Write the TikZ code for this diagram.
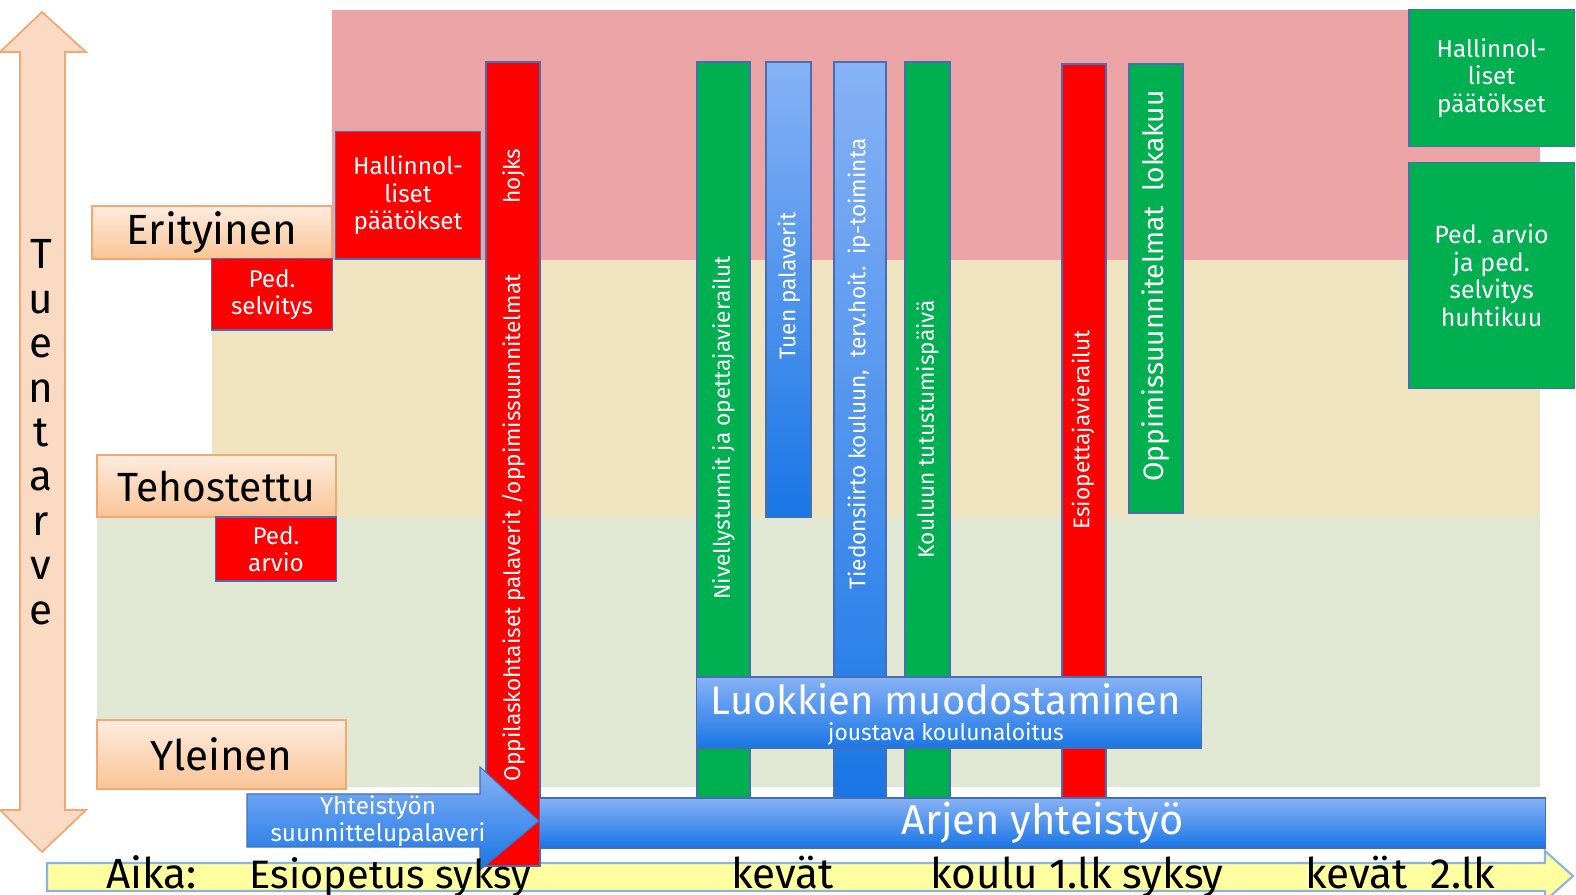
\documentclass[tikz,border=0pt]{standalone}
\usepackage{fontspec}
\setmainfont{Fira Sans}
\usepackage{tikz}

\definecolor{bandred}{RGB}{235,163,165}
\definecolor{bandbeige}{RGB}{240,228,192}
\definecolor{bandgreen}{RGB}{224,232,212}
\definecolor{barred}{RGB}{255,0,0}
\definecolor{bargreen}{RGB}{0,176,80}
\definecolor{bluetop}{RGB}{135,178,245}
\definecolor{bluebot}{RGB}{25,118,230}
\definecolor{edgeblue}{RGB}{70,110,180}
\definecolor{peachtop}{RGB}{253,236,222}
\definecolor{peachbot}{RGB}{250,196,150}
\definecolor{peachedge}{RGB}{242,168,112}
\definecolor{arrowside}{RGB}{251,218,195}
\definecolor{arrowmid}{RGB}{254,236,224}
\definecolor{axisyellow}{RGB}{255,255,160}
\definecolor{axisedge}{RGB}{140,180,220}

\newcommand{\tierfont}{\fontsize{12}{14}\selectfont}
\newcommand{\barfont}{\fontsize{6.45}{7.5}\selectfont}
\newcommand{\boxfont}{\fontsize{6.9}{7.8}\selectfont}

\tikzset{
	tierbox/.style={draw=peachedge, line width=0.5pt, top color=peachtop, bottom color=peachbot, font=\tierfont, inner sep=0pt},
	redbox/.style={draw=edgeblue, line width=0.3pt, fill=barred, text=white, align=center, font=\boxfont, inner sep=0pt},
	greenbox/.style={redbox, fill=bargreen},
	redbar/.style={draw=edgeblue, line width=0.3pt, fill=barred},
	greenbar/.style={draw=edgeblue, line width=0.3pt, fill=bargreen},
	bluebar/.style={draw=edgeblue, line width=0.3pt, top color=bluetop, bottom color=bluebot},
	bartext/.style={text=white, rotate=90, font=\barfont, inner sep=0pt},
	axistext/.style={anchor=base west, font=\tierfont, inner sep=0pt},
}

\begin{document}
\begin{tikzpicture}[x=0.01cm, y=-0.01cm]
	\useasboundingbox (0,0) rectangle (1576,895);

	% tuen tasot, taustat
	\fill[bandred] (332,10) rectangle (1540,260);
	\fill[bandbeige] (212,260) rectangle (1540,517);
	\fill[bandgreen] (97,517) rectangle (1540,787);

	% Tuentarve, kaksisuuntainen nuoli
	\draw[peachedge, line width=0.5pt, left color=arrowside, middle color=arrowmid, right color=arrowside]
		(42,12) -- (86,52) -- (65,52) -- (65,810) -- (86,810) -- (42,852)
		-- (0,810) -- (20,810) -- (20,52) -- (0,52) -- cycle;
	\foreach \c [count=\i from 0] in {T,u,e,n,t,a,r,v,e}
		\node[anchor=base, font=\tierfont, inner sep=0pt] (tl\i) at (41, 269+44.4*\i) {\c};

	% tasot
	\node[tierbox, minimum width=24mm, minimum height=5.3mm] (erityinen) at (212,232.5) {Erityinen};
	\node[tierbox, minimum width=23.9mm, minimum height=6.2mm, font=\fontsize{11.6}{14}\selectfont] (tehostettu) at (216.5,486) {Tehostettu};
	\node[tierbox, minimum width=24.9mm, minimum height=6.9mm] (yleinen) at (221.5,754.5) {Yleinen};

	% punaiset laatikot
	\node[redbox, minimum width=14.4mm, minimum height=12.7mm] (hallinto) at (408,195.5) {Hallinnol-\\liset\\päätökset};
	\node[redbox, minimum width=12mm, minimum height=7.1mm] (selvitys) at (272,294.5) {Ped.\\selvitys};
	\node[redbox, minimum width=12mm, minimum height=6.4mm] (arvio) at (276,549) {Ped.\\arvio};

	% aika-akseli
	\draw[axisedge, line width=0.6pt, fill=axisyellow] (47,863) -- (1545,863) -- (1545,851) -- (1573,876)
		-- (1545,901) -- (1545,891) -- (47,891) -- cycle;

	% pystypalkit
	\draw[redbar] (486,62) rectangle (540,866);
	\node[bartext] (hojks) at (513.5,176) {hojks};
	\node[bartext] (palaverit) at (513.5,528) {Oppilaskohtaiset palaverit /oppimissuunnitelmat};

	\draw[greenbar] (697,62) rectangle (750,799);
	\node[bartext] (nivellys) at (723.5,428) {Nivellystunnit ja opettajavierailut};

	\draw[bluebar] (766,62) rectangle (811,517);
	\node[bartext] (tuen) at (789,286) {Tuen palaverit};

	\draw[bluebar] (834,62) rectangle (886,799);
	\node[bartext] (siirto) at (859,364) {Tiedonsiirto kouluun,\ \ terv.hoit.\ \ ip-toiminta};

	\draw[greenbar] (905,62) rectangle (950,799);
	\node[bartext] (tutustuminen) at (927.5,429) {Kouluun tutustumispäivä};

	\draw[redbar] (1062,64) rectangle (1106,799);
	\node[bartext] (vierailut) at (1083,430) {Esiopettajavierailut};

	\draw[greenbar] (1129,64) rectangle (1183,513);
	\node[bartext, font=\fontsize{8}{10}\selectfont] (lokakuu) at (1156,286) {Oppimissuunnitelmat\ \ lokakuu};

	% vihreat laatikot oikealla
	\node[greenbox, minimum width=16.5mm, minimum height=13.6mm] (hallinto2) at (1491.5,78) {Hallinnol-\\liset\\päätökset};
	\node[greenbox, minimum width=16.5mm, minimum height=22.5mm, font=\fontsize{7.1}{7.8}\selectfont] (huhtikuu) at (1491.5,275.5) {Ped. arvio\\ja ped.\\selvitys\\huhtikuu};

	% luokkien muodostaminen
	\node[bluebar, minimum width=50.4mm, minimum height=7.1mm, inner sep=0pt] (luokat) at (949,712.5) {};
	\node[text=white, font=\fontsize{11.35}{13}\selectfont, inner sep=0pt] (luokat1) at (946,699) {Luokkien muodostaminen};
	\node[text=white, font=\fontsize{6.5}{8}\selectfont, inner sep=0pt] (luokat2) at (946,734) {joustava koulunaloitus};

	% yhteistyo
	\node[bluebar, minimum width=100.5mm, minimum height=5mm, inner sep=0pt, text=white, font=\fontsize{11.85}{14}\selectfont] (arki) at (1042.5,823) {Arjen yhteistyö};
	\draw[bluebar] (247,794) -- (480,794) -- (480,767) -- (539,821) -- (480,870) -- (480,847) -- (247,847) -- cycle;
	\node[text=white, font=\fontsize{6.9}{8}\selectfont, inner sep=0pt] (suunn1) at (378,808) {Yhteistyön};
	\node[text=white, font=\fontsize{6.9}{8}\selectfont, inner sep=0pt] (suunn2) at (378,835) {suunnittelupalaveri};

	% ajat
	\node[axistext] (aika) at (106,888) {Aika:};
	\node[axistext, font=\fontsize{11.3}{14}\selectfont] (syksy) at (249,888) {Esiopetus syksy};
	\node[axistext] (kevat) at (731,888) {kevät};
	\node[axistext] (koulu) at (930,888) {koulu 1.lk syksy};
	\node[axistext] (kevat2) at (1305,888) {kevät\ \ 2.lk};
\end{tikzpicture}
\end{document}
